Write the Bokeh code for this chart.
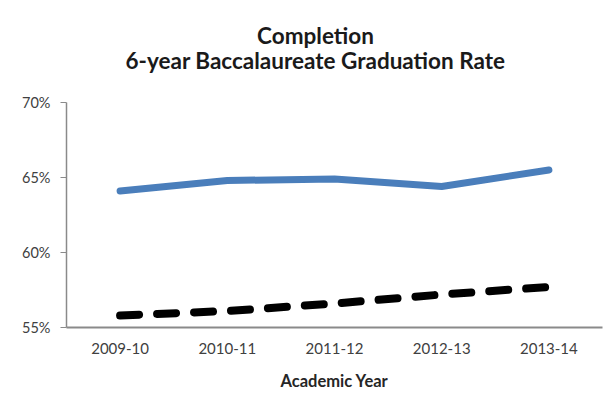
from bokeh.plotting import figure
from bokeh.models import FixedTicker, PrintfTickFormatter, FactorRange, Range1d, Label
from bokeh.embed import file_html
from bokeh.resources import INLINE

years = ["2009-10", "2010-11", "2011-12", "2012-13", "2013-14"]
grad_rate = [64.1, 64.8, 64.9, 64.4, 65.5]
comparison = [55.8, 56.1, 56.6, 57.2, 57.7]
y_ticks = [55, 60, 65, 70]
title_lines = ["Completion", "6-year Baccalaureate Graduation Rate"]

FONT = "Lato"

# frame spans from 20px to 327px; 55%..70% occupies the lower 225px, the rest holds the title
p = figure(width=606, height=393, x_range=FactorRange(*years), y_range=Range1d(55, 75.47),
           output_backend="svg", toolbar_location=None, title=None,
           min_border_left=66, min_border_right=4, min_border_top=20, min_border_bottom=66)
p.outline_line_color = None
p.grid.grid_line_color = None
p.background_fill_color = "white"
p.border_fill_color = "white"

p.line(years, grad_rate, line_color="#4A7EBB", line_width=7, line_cap="round", line_join="round")
p.line(years, comparison, line_color="black", line_width=8, line_cap="round", line_dash="19 18")

# title lines
for txt, yb in zip(title_lines, [292, 267]):
    p.add_layout(Label(x=249, y=yb, x_units="screen", y_units="screen", text=txt,
                       text_align="center", text_baseline="alphabetic", text_font=FONT,
                       text_font_style="bold", text_font_size="22.5px", text_color="#1a1a1a"))

# y axis
p.yaxis.ticker = FixedTicker(ticks=y_ticks)
p.yaxis.bounds = (55, 70)
p.yaxis.formatter = PrintfTickFormatter(format="%d%%")
p.yaxis.axis_line_color = "#8a8a8a"
p.yaxis.axis_line_width = 1.5
p.yaxis.major_tick_line_color = "#8a8a8a"
p.yaxis.major_tick_out = 6
p.yaxis.major_tick_in = 0
p.yaxis.minor_tick_line_color = None
p.yaxis.major_label_standoff = 10
p.yaxis.major_label_text_font = FONT
p.yaxis.major_label_text_font_size = "14.5px"
p.yaxis.major_label_text_color = "#404040"

# x axis
p.xaxis.axis_line_color = "#8a8a8a"
p.xaxis.axis_line_width = 2
p.xaxis.major_tick_line_color = None
p.xaxis.major_tick_out = 0
p.xaxis.major_tick_in = 0
p.xaxis.major_label_standoff = 15
p.xaxis.major_label_text_font = FONT
p.xaxis.major_label_text_font_size = "15px"
p.xaxis.major_label_text_color = "#404040"
p.xaxis.axis_label = "Academic Year"
p.xaxis.axis_label_text_font = FONT
p.xaxis.axis_label_text_font_style = "bold"
p.xaxis.axis_label_text_font_size = "16.5px"
p.xaxis.axis_label_text_color = "#262626"
p.xaxis.axis_label_standoff = 14

open("out.html", "w").write(file_html(p, INLINE))
